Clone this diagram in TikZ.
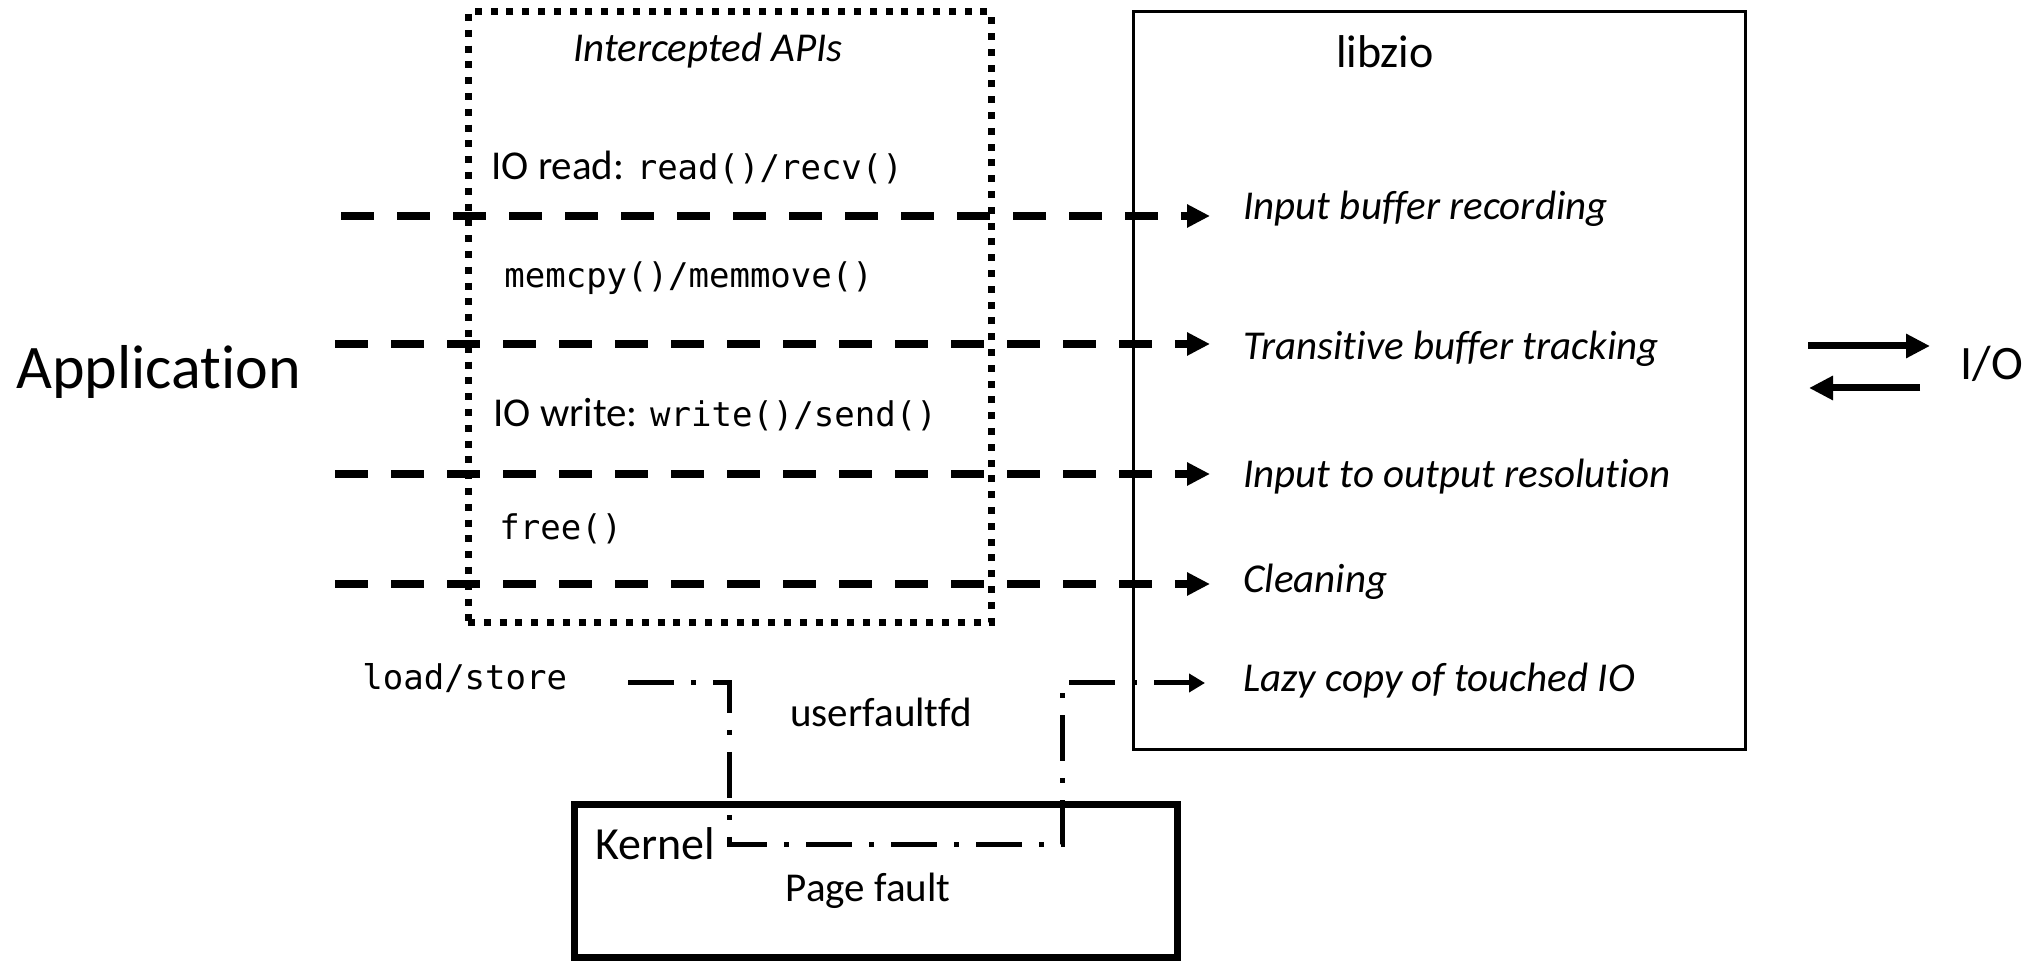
\documentclass[tikz,border=0pt]{standalone}
\usepackage{fontspec}
\setmainfont{Carlito}[Ligatures=NoCommon]
\newfontfamily\monof{DejaVu Sans Mono}
\usetikzlibrary{arrows.meta}
\tikzset{
  txt/.style={inner sep=0pt, font=\fontsize{20.5}{24}\selectfont},
  itxt/.style={inner sep=0pt, font=\fontsize{20.5}{24}\selectfont\itshape},
  mono/.style={inner sep=0pt, font=\fontsize{17}{20}\selectfont\monof},
  big/.style={inner sep=0pt, font=\fontsize{31}{36}\selectfont},
  mid/.style={inner sep=0pt, font=\fontsize{23}{27}\selectfont},
  dashline/.style={line width=4pt, dash pattern=on 16.5pt off 11.5pt, -{Triangle[length=11.5pt,width=11pt]}, shorten >=16.5pt},
  dotbox/.style={draw, line width=3.5pt, dash pattern=on 3.5pt off 4.4pt, inner sep=0pt},
  dashdotline/.style={line width=2.5pt, dash pattern=on 23pt off 8.5pt on 2.5pt off 8.5pt, -{Triangle[length=8pt,width=9pt]}},
  ioarrow/.style={line width=3.5pt, -{Triangle[length=12pt,width=11.5pt]}},
}
\begin{document}
\begin{tikzpicture}[x=0.5pt, y=-0.5pt]
\useasboundingbox (0,0) rectangle (2031,961);
% boxes
\node[dotbox, minimum width=261.5pt, minimum height=305.5pt] (api) at (729.5,317.5) {};
\node[draw, line width=1.5pt, minimum width=306pt, minimum height=369pt, inner sep=0pt] (libzio) at (1439,381) {};
\node[draw, line width=3.5pt, minimum width=301.5pt, minimum height=76.5pt, inner sep=0pt] (kernel) at (875.5,881.5) {};
% texts
\node[big, anchor=base west] (app) at (16,389) {Application};
\node[inner sep=0pt, font=\fontsize{24}{28}\selectfont, anchor=base west] (io) at (1960,380) {I/O};
\node[itxt, anchor=base] (ititle) at (708,62) {Intercepted APIs};
\node[txt, anchor=base west] (ioread) at (491,180) {IO read: {\fontsize{17}{20}\selectfont\monof read()/recv()}};
\node[mono, anchor=base west] (memcpy) at (504,288) {memcpy()/memmove()};
\node[txt, anchor=base west] (iowrite) at (493,427) {IO write: {\fontsize{17}{20}\selectfont\monof write()/send()}};
\node[mono, anchor=base west] (free) at (499,540) {free()};
\node[mono, anchor=base west] (ls) at (362,690) {load/store};
\node[txt, anchor=base] (uffd) at (881,727) {userfaultfd};
\node[mid, anchor=base west] (ktitle) at (595,860) {Kernel};
\node[txt, anchor=base] (pf) at (868,902) {Page fault};
\node[mid, anchor=base] (ltitle) at (1385,68) {libzio};
\node[itxt, anchor=base west] (r1) at (1243,220) {Input buffer recording};
\node[itxt, anchor=base west] (r2) at (1243,360) {Transitive buffer tracking};
\node[itxt, anchor=base west] (r3) at (1243,488) {Input to output resolution};
\node[itxt, anchor=base west] (r4) at (1243,593) {Cleaning};
\node[itxt, anchor=base west] (r5) at (1243,692) {Lazy copy of touched IO};
% dashed arrows
\coordinate (s1) at (341,216);
\coordinate (s2) at (335,344);
\coordinate (s3) at (335,474);
\coordinate (s4) at (335,584);
\draw[dashline] (s1) -- (s1 -| r1.west);
\draw[dashline] (s2) -- (s2 -| r2.west);
\draw[dashline] (s3) -- (s3 -| r3.west);
\draw[dashline] (s4) -- (s4 -| r4.west);
% userfaultfd path
\coordinate (d0) at (628,683);
\coordinate (d1) at (729,683);
\coordinate (d2) at (729,845);
\coordinate (d3) at (1062,845);
\coordinate (d4) at (1062,683);
\draw[dashdotline, shorten >=19pt] (d0) -- (d1) -- (d2) -- (d3) -- (d4) -- (d4 -| r5.west);
% I/O arrows
\coordinate (a1) at (1808,346);
\coordinate (a2) at (1930,346);
\coordinate (b1) at (1920,388);
\coordinate (b2) at (1809,388);
\draw[ioarrow] (a1) -- (a2);
\draw[ioarrow] (b1) -- (b2);
\end{tikzpicture}
\end{document}
